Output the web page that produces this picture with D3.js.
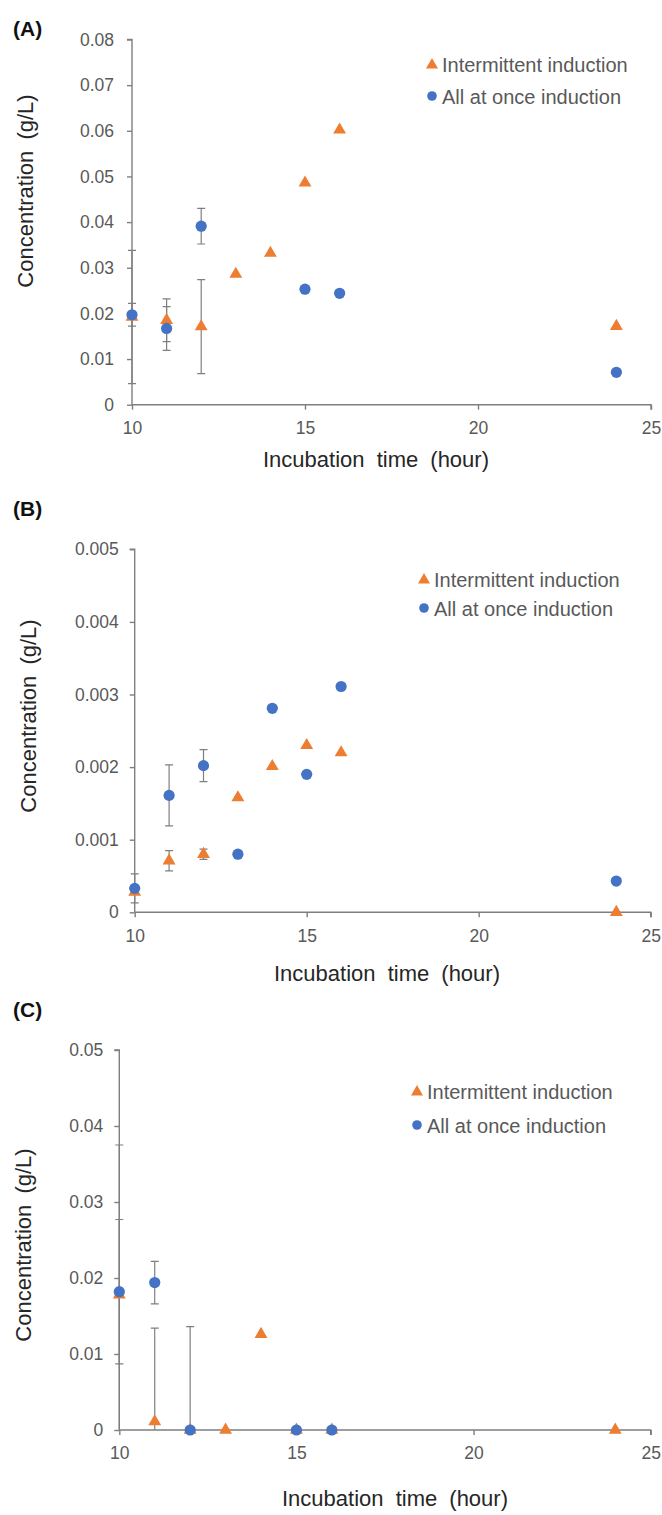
<!DOCTYPE html>
<html>
<head>
<meta charset="utf-8">
<title>Concentration vs incubation time</title>
<script src="https://d3js.org/d3.v7.min.js"></script>
<style>
  body { margin: 0; background: white; }
  svg { display: block; font-family: "Liberation Sans", Arial, sans-serif; }
  .tick text { fill: #595959; font-size: 17.5px; }
  .axis path, .axis line { stroke: #7f7f7f; stroke-width: 1.4; }
</style>
</head>
<body>
<div id="chart"></div>
<script>
// data
var hours = [10, 11, 12, 13, 14, 15, 16, 24];
var seriesNames = ["Intermittent induction", "All at once induction"];
var xTicks = [10, 15, 20, 25];

// (A)
var intermA    = [0.0192, 0.0185, 0.0171, 0.0286, 0.0332, 0.0486, 0.0602, 0.0172];
var intermErrA = [0.0146, 0.0047, 0.0103, 0, 0, 0, 0, 0];
var onceA      = [0.0197, 0.0167, 0.0391, null, null, 0.0253, 0.0244, 0.0071];
var onceErrA   = [0.0025, 0.0048, 0.0039, 0, 0, 0, 0, 0];
var yTicksA    = [0, 0.01, 0.02, 0.03, 0.04, 0.05, 0.06, 0.07, 0.08];

// (B)
var intermB    = [0.00028, 0.00071, 0.0008, 0.00158, 0.00201, 0.0023, 0.0022, 0];
var intermErrB = [0, 0.00014, 0.00007, 0, 0, 0, 0, 0];
var onceB      = [0.00033, 0.00161, 0.00202, 0.0008, 0.00281, 0.0019, 0.00311, 0.00043];
var onceErrB   = [0.0002, 0.00042, 0.00022, 0, 0, 0, 0, 0];
var yTicksB    = [0, 0.001, 0.002, 0.003, 0.004, 0.005];

// (C)
var intermC    = [0.0178, 0.0011, 0, 0, 0.0126, 0, 0, 0];
var intermErrC = [0.0197, 0.0123, 0.0136, 0, 0, 0, 0, 0];
var onceC      = [0.0182, 0.0194, 0, null, null, 0, 0, null];
var onceErrC   = [0.0095, 0.0028, 0, 0, 0, 0, 0, 0];
var yTicksC    = [0, 0.01, 0.02, 0.03, 0.04, 0.05];

var orange = "#ed7d31", blue = "#4472c4";

var svg = d3.select("#chart").append("svg")
  .attr("width", 662).attr("height", 1515);

var panels = [
  {label: "(A)", labelY: 36, left: 132, right: 651, top: 39.5, bottom: 404.7,
   inter: intermA, interErr: intermErrA, once: onceA, onceErr: onceErrA,
   yTicks: yTicksA, fmt: ".2f", yPad: 13, yLabelX: 25, yLabelY: 191, xLabelX: 376, xLabelY: 467,
   legX: 432, legY: 64, legGap: 32},
  {label: "(B)", labelY: 516, left: 134.7, right: 650.7, top: 549.3, bottom: 912.3,
   inter: intermB, interErr: intermErrB, once: onceB, onceErr: onceErrB,
   yTicks: yTicksB, fmt: ".3f", yPad: 11, yLabelX: 28, yLabelY: 716, xLabelX: 387, xLabelY: 981,
   legX: 424, legY: 579, legGap: 29},
  {label: "(C)", labelY: 1017, left: 119.3, right: 650.7, top: 1050, bottom: 1430,
   inter: intermC, interErr: intermErrC, once: onceC, onceErr: onceErrC,
   yTicks: yTicksC, fmt: ".2f", yPad: 11, yLabelX: 23, yLabelY: 1245, xLabelX: 395, xLabelY: 1506,
   legX: 417, legY: 1091, legGap: 34}
];

panels.forEach(drawPanel);

function drawPanel(p, idx) {
  var x = d3.scaleLinear().domain([10, 25]).range([p.left, p.right]);
  var y = d3.scaleLinear().domain([0, p.yTicks[p.yTicks.length - 1]]).range([p.bottom, p.top]);
  var g = svg.append("g");

  // panel letter
  g.append("text").attr("x", 13).attr("y", p.labelY)
    .attr("font-weight", "bold").attr("font-size", 21).attr("fill", "#111")
    .text(p.label);

  var clipId = "clip" + idx;
  g.append("clipPath").attr("id", clipId).append("rect")
    .attr("x", p.left - 10).attr("y", p.top - 10)
    .attr("width", p.right - p.left + 20).attr("height", p.bottom - p.top + 10);

  // axes
  g.append("g").attr("class", "axis")
    .attr("transform", "translate(" + p.left + ",0)")
    .call(d3.axisLeft(y).tickValues(p.yTicks).tickSize(5).tickPadding(p.yPad)
      .tickFormat(function(d) { return d === 0 ? "0" : d3.format(p.fmt)(d); }))
    .call(function(s) { s.select(".domain").attr("d", "M0," + p.bottom + "V" + p.top + "h-5"); });

  g.append("g").attr("class", "axis")
    .attr("transform", "translate(0," + p.bottom + ")")
    .call(d3.axisBottom(x).tickValues(xTicks).tickSize(5).tickPadding(12))
    .call(function(s) { s.select(".domain").attr("d", "M" + p.left + ",0H" + p.right + "v5"); });

  g.selectAll(".axis .tick text").attr("fill", "#595959");

  // axis titles
  g.append("text")
    .attr("transform", "translate(" + p.yLabelX + "," + p.yLabelY + ") rotate(-90)")
    .attr("text-anchor", "middle").attr("dy", "0.35em")
    .attr("font-size", 22).attr("fill", "#262626").attr("word-spacing", 5)
    .text("Concentration (g/L)");

  g.append("text").attr("x", p.xLabelX).attr("y", p.xLabelY)
    .attr("text-anchor", "middle").attr("font-size", 22).attr("fill", "#262626")
    .attr("word-spacing", 6)
    .text("Incubation time (hour)");

  // error bars
  var errs = [];
  hours.forEach(function(h, i) {
    if (p.inter[i] != null && p.interErr[i] > 0) errs.push({h: h, v: p.inter[i], e: p.interErr[i]});
    if (p.once[i] != null && p.onceErr[i] > 0) errs.push({h: h, v: p.once[i], e: p.onceErr[i]});
  });
  var eb = g.append("g").attr("clip-path", "url(#" + clipId + ")")
    .attr("stroke", "#7f7f7f").attr("stroke-width", 1.2).attr("fill", "none");
  eb.selectAll("path").data(errs).enter().append("path")
    .attr("d", function(d) {
      var cx = x(d.h), y1 = y(d.v + d.e), y0 = y(d.v - d.e);
      return "M" + cx + "," + y0 + "V" + y1 +
             "M" + (cx - 4) + "," + y1 + "h8" +
             "M" + (cx - 4) + "," + y0 + "h8";
    });

  // markers: triangles first, circles on top
  var tri = d3.symbol().type(d3.symbolTriangle).size(72);
  g.append("g").selectAll("path")
    .data(hours.map(function(h, i) { return {h: h, v: p.inter[i]}; }).filter(function(d) { return d.v != null; }))
    .enter().append("path")
    .attr("d", tri)
    .attr("transform", function(d) { return "translate(" + x(d.h) + "," + y(d.v) + ")"; })
    .attr("fill", orange);

  g.append("g").selectAll("circle")
    .data(hours.map(function(h, i) { return {h: h, v: p.once[i]}; }).filter(function(d) { return d.v != null; }))
    .enter().append("circle")
    .attr("cx", function(d) { return x(d.h); })
    .attr("cy", function(d) { return y(d.v); })
    .attr("r", 5.6)
    .attr("fill", blue);

  // legend
  var leg = g.append("g");
  leg.append("path").attr("d", d3.symbol().type(d3.symbolTriangle).size(62))
    .attr("transform", "translate(" + p.legX + "," + (p.legY + 1) + ")").attr("fill", orange);
  leg.append("circle").attr("cx", p.legX).attr("cy", p.legY + p.legGap).attr("r", 4.8).attr("fill", blue);
  seriesNames.forEach(function(name, i) {
    leg.append("text").attr("x", p.legX + 10).attr("y", p.legY + i * p.legGap + 7.5)
      .attr("font-size", 20).attr("fill", "#595959").text(name);
  });
}
</script>
</body>
</html>
